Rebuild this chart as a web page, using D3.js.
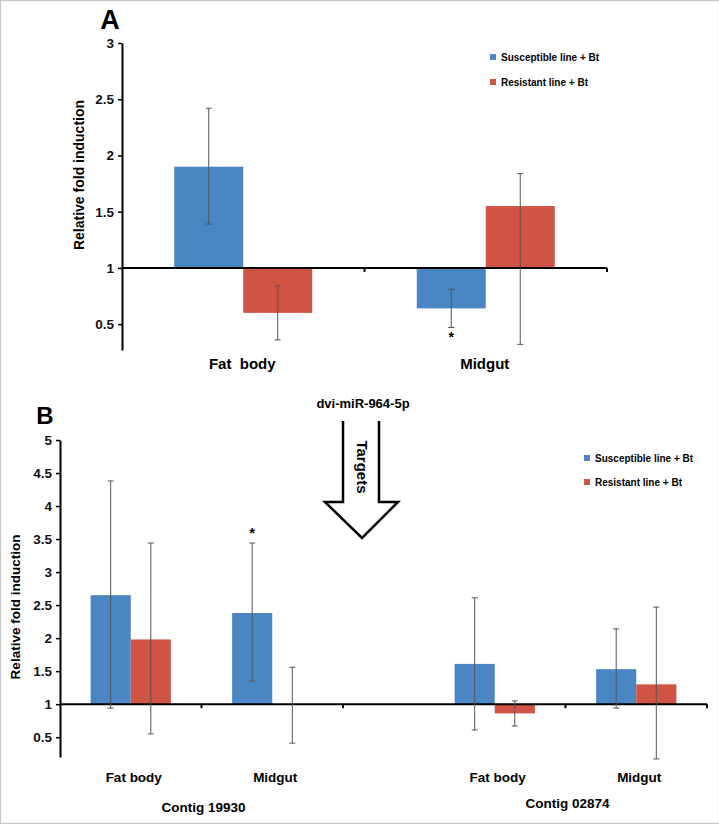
<!DOCTYPE html>
<html>
<head>
<meta charset="utf-8">
<script src="https://cdn.jsdelivr.net/npm/d3@7"></script>
<style>
  html, body { margin: 0; padding: 0; background: #fff; }
  svg { display: block; font-family: "Liberation Sans", Arial, sans-serif; font-weight: bold; }
</style>
</head>
<body>
<svg id="chart" width="719" height="826"></svg>
<script>
// ---------- data ----------
const seriesNames = ["Susceptible line + Bt", "Resistant line + Bt"];

// Panel A
const tissuesA = ["Fat  body", "Midgut"];
const susA = [1.90, 0.64];
const resA = [0.60, 1.55];
const susAPlus = [0.52, 0.17];
const susAMinus = [0.51, 0.17];
const resAPlus = [0.24, 0.29];
const resAMinus = [0.24, 1.23];
const ticksA = [0.5, 1, 1.5, 2, 2.5, 3];

// Panel B
const contigs = ["Contig 19930", "Contig 02874"];
const tissuesB = ["Fat body", "Midgut"];
const susB = [2.65, 2.38, 1.61, 1.53];
const resB = [1.98, 0.99, 0.86, 1.30];
const susBPlus = [1.73, 1.06, 1.00, 0.61];
const susBMinus = [1.71, 1.03, 1.00, 0.59];
const resBPlus = [1.46, 0.57, 0.19, 1.17];
const resBMinus = [1.43, 0.58, 0.19, 1.13];
const ticksB = [0.5, 1, 1.5, 2, 2.5, 3, 3.5, 4, 4.5, 5];
const baseline = 1;

const colors = ["#4a86c3", "#d05343"];
const errColor = "#555";

const svg = d3.select("#chart");

// frame
svg.append("rect").attr("x", 0.5).attr("y", 0.5).attr("width", 719).attr("height", 823)
  .attr("fill", "none").attr("stroke", "#c8c8c8").attr("stroke-width", 1.2);

function errBar(g, x, y, top, bot) {
  g.append("line").attr("x1", x).attr("x2", x).attr("y1", y(top)).attr("y2", y(bot))
    .attr("stroke", errColor).attr("stroke-width", 1);
  [top, bot].forEach(v => g.append("line").attr("x1", x - 3).attr("x2", x + 3)
    .attr("y1", y(v)).attr("y2", y(v)).attr("stroke", errColor).attr("stroke-width", 1));
}

function drawBars(g, xc, bw, y, vals, color) {
  vals.forEach((v, i) => {
    g.append("rect").attr("x", xc(i)).attr("width", bw)
      .attr("y", y(Math.max(v, baseline))).attr("height", Math.abs(y(v) - y(baseline)))
      .attr("fill", color);
  });
}

function styleAxis(ax) {
  ax.select(".domain").attr("stroke-width", 2);
  ax.selectAll(".tick line").attr("stroke-width", 1.5);
  ax.selectAll("text").attr("font-size", 13.5).attr("font-weight", "bold")
    .attr("font-family", "'Liberation Sans', Arial, sans-serif").attr("fill", "#111");
}

// ---------- Panel A ----------
{
  const g = svg.append("g");
  const y = d3.scaleLinear().domain([0.27, 3]).range([350, 43]);
  const x = d3.scaleBand().domain(tissuesA).range([122, 607]).paddingInner(0.431).paddingOuter(0.2155);
  const xs = d3.scaleBand().domain(seriesNames).range([0, x.bandwidth()]);
  const step = x.step();
  const off = step * 0.2155;

  const bars = g.append("g");
  drawBars(bars, i => x(tissuesA[i]) + xs(seriesNames[0]), xs.bandwidth(), y, susA, colors[0]);
  drawBars(bars, i => x(tissuesA[i]) + xs(seriesNames[1]), xs.bandwidth(), y, resA, colors[1]);

  g.append("line").attr("x1", 122).attr("x2", 607).attr("y1", y(baseline)).attr("y2", y(baseline))
    .attr("stroke", "#000").attr("stroke-width", 2);
  tissuesA.forEach(t => {
    const bx = x(t) - off + step;
    g.append("line").attr("x1", bx).attr("x2", bx).attr("y1", y(baseline)).attr("y2", y(baseline) + 4)
      .attr("stroke", "#000").attr("stroke-width", 2);
  });

  const errs = g.append("g");
  susA.forEach((v, i) => errBar(errs, x(tissuesA[i]) + xs(seriesNames[0]) + xs.bandwidth() / 2, y, v + susAPlus[i], v - susAMinus[i]));
  resA.forEach((v, i) => errBar(errs, x(tissuesA[i]) + xs(seriesNames[1]) + xs.bandwidth() / 2, y, v + resAPlus[i], v - resAMinus[i]));

  const ax = g.append("g").attr("transform", "translate(122,0)")
    .call(d3.axisLeft(y).tickValues(ticksA).tickFormat(d3.format("")).tickSize(4).tickSizeOuter(0).tickPadding(4));
  styleAxis(ax);

  tissuesA.forEach(t => {
    g.append("text").attr("x", x(t) + x.bandwidth() / 2 - 1).attr("y", 364).attr("dy", "0.35em")
      .attr("text-anchor", "middle").attr("font-size", 15).style("white-space", "pre").text(t);
  });
  g.append("text").attr("transform", "translate(79,175) rotate(-90)").attr("text-anchor", "middle")
    .attr("dy", "0.35em").attr("font-size", 14).text("Relative fold induction");
  g.append("text").attr("x", 110).attr("y", 20).attr("dy", "0.35em").attr("text-anchor", "middle")
    .attr("font-size", 27).text("A");
  g.append("text").attr("x", x(tissuesA[1]) + xs(seriesNames[0]) + xs.bandwidth() / 2).attr("y", 342)
    .attr("text-anchor", "middle").attr("font-size", 14).text("*");

  seriesNames.forEach((s, i) => {
    const ly = 57 + i * 25;
    g.append("rect").attr("x", 490).attr("y", ly - 3).attr("width", 6).attr("height", 6).attr("fill", colors[i]);
    g.append("text").attr("x", 501).attr("y", ly).attr("dy", "0.35em").attr("font-size", 10).text(s);
  });
}

// ---------- miRNA + arrow ----------
{
  svg.append("text").attr("x", 363).attr("y", 403).attr("dy", "0.35em").attr("text-anchor", "middle")
    .attr("font-size", 13).text("dvi-miR-964-5p");
  svg.append("path").attr("d", "M343,421 L343,502 L325,502 L362,538 L398,502 L379,502 L379,421")
    .attr("fill", "#fff").attr("stroke", "#000").attr("stroke-width", 2.5).attr("stroke-linejoin", "miter");
  svg.append("text").attr("transform", "translate(362,467) rotate(90)").attr("text-anchor", "middle")
    .attr("dy", "0.35em").attr("font-size", 15).text("Targets");
}

// ---------- Panel B ----------
{
  const g = svg.append("g");
  const y = d3.scaleLinear().domain([0.2, 5]).range([757, 440]);
  const xo = d3.scaleBand().domain(contigs).range([60, 707]).paddingInner(0.2225).paddingOuter(0);
  const xt = d3.scaleBand().domain(tissuesB).range([0, xo.bandwidth()]).paddingInner(0.433).paddingOuter(0.2165);
  const xs = d3.scaleBand().domain(seriesNames).range([0, xt.bandwidth()]);
  const step = xt.step();
  const off = step * 0.2165;
  const cells = [];
  contigs.forEach(c => tissuesB.forEach(t => cells.push({ c, t })));
  const bx = (i, s) => xo(cells[i].c) + xt(cells[i].t) + xs(seriesNames[s]);

  const bars = g.append("g");
  drawBars(bars, i => bx(i, 0), xs.bandwidth(), y, susB, colors[0]);
  drawBars(bars, i => bx(i, 1), xs.bandwidth(), y, resB, colors[1]);

  g.append("line").attr("x1", 60).attr("x2", 707).attr("y1", y(baseline)).attr("y2", y(baseline))
    .attr("stroke", "#000").attr("stroke-width", 2);
  cells.forEach(d => {
    const tx = xo(d.c) + xt(d.t) - off + step;
    g.append("line").attr("x1", tx).attr("x2", tx).attr("y1", y(baseline)).attr("y2", y(baseline) + 4)
      .attr("stroke", "#000").attr("stroke-width", 2);
  });

  const errs = g.append("g");
  susB.forEach((v, i) => errBar(errs, bx(i, 0) + xs.bandwidth() / 2, y, v + susBPlus[i], v - susBMinus[i]));
  resB.forEach((v, i) => errBar(errs, bx(i, 1) + xs.bandwidth() / 2, y, v + resBPlus[i], v - resBMinus[i]));

  const ax = g.append("g").attr("transform", "translate(60,0)")
    .call(d3.axisLeft(y).tickValues(ticksB).tickFormat(d3.format("")).tickSize(4).tickSizeOuter(0).tickPadding(4));
  styleAxis(ax);

  cells.forEach(d => {
    g.append("text").attr("x", xo(d.c) + xt(d.t) + xt.bandwidth() / 2 + 3).attr("y", 777).attr("dy", "0.35em")
      .attr("text-anchor", "middle").attr("font-size", 13.5).text(d.t);
  });
  contigs.forEach((c, i) => {
    g.append("text").attr("x", xo(c) + xo.bandwidth() / 2 + 2).attr("y", i === 0 ? 807 : 803).attr("dy", "0.35em")
      .attr("text-anchor", "middle").attr("font-size", 13.5).text(c);
  });
  g.append("text").attr("transform", "translate(15,607) rotate(-90)").attr("text-anchor", "middle")
    .attr("dy", "0.35em").attr("font-size", 13.5).text("Relative fold induction");
  g.append("text").attr("x", 45).attr("y", 416).attr("dy", "0.35em").attr("text-anchor", "middle")
    .attr("font-size", 24).text("B");
  g.append("text").attr("x", bx(1, 0) + xs.bandwidth() / 2).attr("y", 538)
    .attr("text-anchor", "middle").attr("font-size", 14).text("*");

  seriesNames.forEach((s, i) => {
    const ly = 458 + i * 24;
    g.append("rect").attr("x", 584).attr("y", ly - 3).attr("width", 6).attr("height", 6).attr("fill", colors[i]);
    g.append("text").attr("x", 595).attr("y", ly).attr("dy", "0.35em").attr("font-size", 10).text(s);
  });
}
</script>
</body>
</html>
